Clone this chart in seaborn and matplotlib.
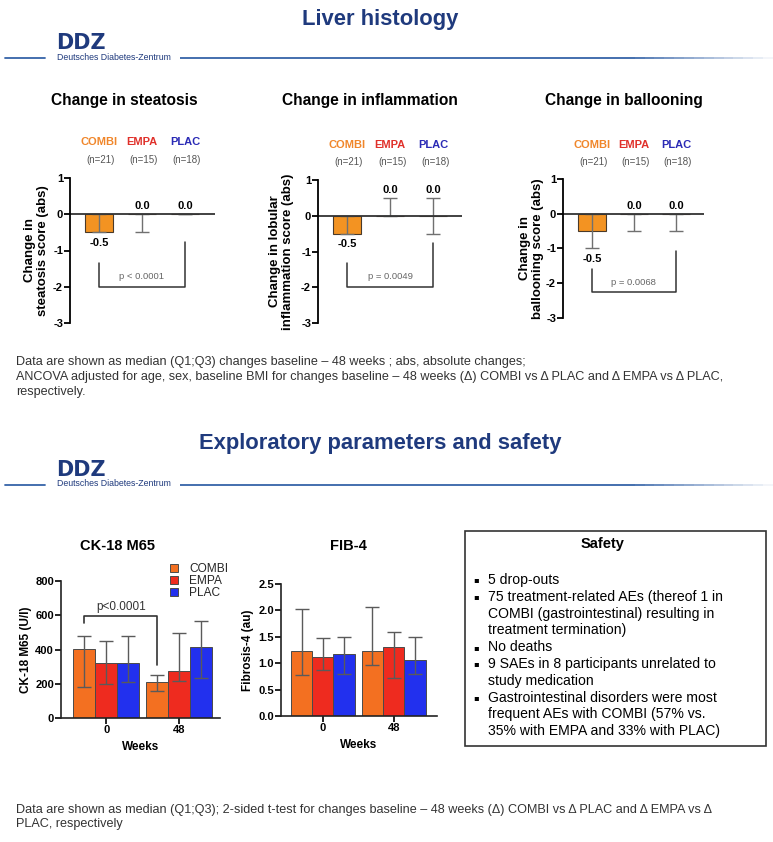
import numpy as np
import pandas as pd
import seaborn as sns
import matplotlib.pyplot as plt
from matplotlib.patches import Rectangle
from matplotlib.lines import Line2D
from matplotlib.collections import LineCollection
from matplotlib.colors import to_rgba

sns.set_theme(style='white')
plt.rcParams['font.family'] = ['Liberation Sans', 'DejaVu Sans']
plt.rcParams['axes.unicode_minus'] = False

W, H = 773, 842
NAVY = '#1f3a7d'
LINE_BLUE = '#3563a8'

# ---- data ----
groups = ['COMBI', 'EMPA', 'PLAC']
group_n = ['(n=21)', '(n=15)', '(n=18)']
header_colors = ['#f0862a', '#e0302a', '#2a2ab5']
bar_colors = ['#f37021', '#ee2b1f', '#2230ee']
top_bar_colors = ['#f39322', '#ee2b1f', '#2230ee']

top_titles = ['Change in steatosis', 'Change in inflammation', 'Change in ballooning']
top_ylabels = ['Change in\nsteatosis score (abs)',
               'Change in lobular\ninflammation score (abs)',
               'Change in\nballooning score (abs)']
top_pvals = ['p < 0.0001', 'p = 0.0049', 'p = 0.0068']

# median, Q1, Q3 of changes baseline - 48 weeks
steatosis_med = [-0.5, 0.0, 0.0]
steatosis_q1 = [-0.5, -0.5, 0.0]
steatosis_q3 = [0.0, 0.0, 0.0]
inflam_med = [-0.5, 0.0, 0.0]
inflam_q1 = [-0.5, 0.0, -0.5]
inflam_q3 = [0.0, 0.5, 0.5]
balloon_med = [-0.5, 0.0, 0.0]
balloon_q1 = [-1.0, -0.5, -0.5]
balloon_q3 = [0.0, 0.0, 0.0]

weeks = ['0', '48']
ck18_combi = [405, 210]
ck18_empa = [322, 274]
ck18_plac = [322, 415]
ck18_combi_q1 = [181, 158]
ck18_empa_q1 = [201, 216]
ck18_plac_q1 = [213, 234]
ck18_combi_q3 = [480, 251]
ck18_empa_q3 = [449, 496]
ck18_plac_q3 = [480, 566]

fib4_combi = [1.23, 1.23]
fib4_empa = [1.12, 1.30]
fib4_plac = [1.17, 1.06]
fib4_combi_q1 = [0.78, 0.97]
fib4_empa_q1 = [0.88, 0.72]
fib4_plac_q1 = [0.80, 0.80]
fib4_combi_q3 = [2.03, 2.07]
fib4_empa_q3 = [1.48, 1.60]
fib4_plac_q3 = [1.49, 1.49]

safety_lines = [
    (True, '5 drop-outs'),
    (True, '75 treatment-related AEs (thereof 1 in'),
    (False, 'COMBI (gastrointestinal) resulting in'),
    (False, 'treatment termination)'),
    (True, 'No deaths'),
    (True, '9 SAEs in 8 participants unrelated to'),
    (False, 'study medication'),
    (True, 'Gastrointestinal disorders were most'),
    (False, 'frequent AEs with COMBI (57% vs.'),
    (False, '35% with EMPA and 33% with PLAC)'),
]

fig = plt.figure(figsize=(W / 100, H / 100), dpi=100)
fig.patch.set_facecolor('white')


def px_axes(x0, y0, x1, y1):
    return fig.add_axes([x0 / W, 1 - y1 / H, (x1 - x0) / W, (y1 - y0) / H])


def ftext(x, y, s, **kw):
    fig.text(x / W, 1 - y / H, s, **kw)


def fline(x0, x1, y, **kw):
    fig.add_artist(Line2D([x0 / W, x1 / W], [1 - y / H, 1 - y / H], transform=fig.transFigure, **kw))


def fade_line(x0, x1, y, color, lw):
    # header rule that fades out towards the right edge
    n = 60
    xs = np.linspace(x0, x1, n + 1) / W
    segs = [[(xs[k], 1 - y / H), (xs[k + 1], 1 - y / H)] for k in range(n)]
    base = to_rgba(color)
    alphas = np.clip((n - np.arange(n)) / (n * 0.25), 0, 1)
    cols = [(base[0], base[1], base[2], a) for a in alphas]
    fig.add_artist(LineCollection(segs, colors=cols, linewidths=lw, transform=fig.transFigure))


def header(title, ty, ly):
    ftext(380, ty, title, ha='center', va='center', fontsize=15.8, fontweight='bold', color=NAVY)
    ftext(56, ly - 15, 'DDZ', ha='left', va='center', fontsize=15, fontweight='heavy',
          color=NAVY, family='DejaVu Sans')
    ftext(57, ly - 1, 'Deutsches Diabetes-Zentrum', ha='left', va='center', fontsize=6.3, color=NAVY)
    fline(5, 45, ly, color=LINE_BLUE, lw=1.3)
    fade_line(180, 773, ly, LINE_BLUE, 1.3)


header('Liver histology', 20, 58)
header('Exploratory parameters and safety', 443, 485)

# ---- liver histology panels ----
top_specs = [
    ((70, 178, 215, 323), (-0.67, 2.7), steatosis_med, steatosis_q1, steatosis_q3,
     (-1.35, -0.77, -2.0, -1.73), 124, -0.145),
    ((318, 180, 462, 323), (-0.67, 2.67), inflam_med, inflam_q1, inflam_q3,
     (-1.32, -0.77, -2.0, -1.71), 370, -0.167),
    ((563, 179, 704, 318), (-0.69, 2.67), balloon_med, balloon_q1, balloon_q3,
     (-1.59, -1.07, -2.25, -1.99), 624, -0.135),
]

for i, (box, xlim, med, q1, q3, br, tx, lx) in enumerate(top_specs):
    ax = px_axes(*box)
    df = pd.DataFrame({'group': groups, 'value': med})
    sns.barplot(data=df, x='group', y='value', hue='group', palette=top_bar_colors,
                width=0.65, edgecolor='#4a3a2a', linewidth=0.8, errorbar=None,
                saturation=1, legend=False, ax=ax)
    med_a, q1_a, q3_a = np.array(med), np.array(q1), np.array(q3)
    xs = np.arange(len(groups))
    ax.errorbar(xs, med_a, yerr=[med_a - q1_a, q3_a - med_a], fmt='none',
                ecolor='#707070', elinewidth=1, capsize=5, capthick=1)
    ax.axhline(0, color='#333333', lw=1.3)
    ax.set_xlim(xlim)
    ax.set_ylim(-3, 1)
    ax.set_yticks([1, 0, -1, -2, -3])
    ax.set_xticks([])
    ax.set_xlabel('')
    for s in ['top', 'right', 'bottom']:
        ax.spines[s].set_visible(False)
    ax.spines['left'].set_color('black')
    ax.spines['left'].set_linewidth(1.3)
    ax.tick_params(axis='y', direction='out', length=4, width=1.3, labelsize=8, pad=1,
                   left=True, colors='black')
    for t in ax.get_yticklabels():
        t.set_fontweight('bold')
    ax.set_ylabel(top_ylabels[i], fontsize=9.5, fontweight='bold', color='black', linespacing=1.1)
    ax.yaxis.set_label_coords(lx, 0.5)
    ftext(tx, 100, top_titles[i], ha='center', va='center', fontsize=11.2, fontweight='bold', color='black')

    for j, g in enumerate(groups):
        ax.text(j, 1.98, g, ha='center', va='center', fontsize=8, fontweight='bold',
                color=header_colors[j], clip_on=False)
        ax.text(j + 0.05, 1.5, group_n[j], ha='center', va='center', fontsize=7,
                color='#555555', clip_on=False)
        if med[j] < 0:
            ax.text(j, min(med[j], q1[j]) - 0.3, f'{med[j]:.1f}', ha='center', va='center',
                    fontsize=8, fontweight='bold', color='black')
        else:
            ax.text(j, max(med[j], q3[j]) + 0.23, f'{med[j]:.1f}', ha='center', va='center',
                    fontsize=8, fontweight='bold', color='black')

    yl, yr, yb, yt = br
    ax.plot([0, 0, 2, 2], [yl, yb, yb, yr], color='#333333', lw=1.1)
    ax.text(1, yt, top_pvals[i], ha='center', va='center', fontsize=6.8, color='#666666')

# footnote for histology
foot1 = ['Data are shown as median (Q1;Q3) changes baseline \u2013 48 weeks ; abs, absolute changes;',
         'ANCOVA adjusted for age, sex, baseline BMI for changes baseline \u2013 48 weeks (\u0394) COMBI vs \u0394 PLAC and \u0394 EMPA vs \u0394 PLAC,',
         'respectively.']
for k, line in enumerate(foot1):
    ftext(16, 362 + 15 * k, line, ha='left', va='center', fontsize=9.1, color='#333333')


# ---- exploratory panels ----
def grouped_panel(box, xlim, ylim, yticks, meds, q1s, q3s, ylabel, title, tx, lx, fmt):
    ax = px_axes(*box)
    df = pd.DataFrame({'week': weeks * len(groups),
                       'group': np.repeat(groups, len(weeks)),
                       'value': np.concatenate(meds)})
    sns.barplot(data=df, x='week', y='value', hue='group', hue_order=groups,
                palette=bar_colors, width=0.9, edgecolor='#4a4a4a', linewidth=0.7,
                errorbar=None, saturation=1, ax=ax)
    centers = []
    for cont, m, lo, hi in zip(ax.containers, meds, q1s, q3s):
        cx = [b.get_x() + b.get_width() / 2 for b in cont]
        centers.append(cx)
        m, lo, hi = np.array(m), np.array(lo), np.array(hi)
        ax.errorbar(cx, m, yerr=[m - lo, hi - m], fmt='none', ecolor='#5a5a5a',
                    elinewidth=1, capsize=5, capthick=1)
    ax.set_xlim(xlim)
    ax.set_ylim(ylim)
    ax.set_yticks(yticks)
    ax.set_yticklabels([fmt.format(v) for v in yticks])
    for s in ['top', 'right']:
        ax.spines[s].set_visible(False)
    for s in ['left', 'bottom']:
        ax.spines[s].set_color('#222222')
        ax.spines[s].set_linewidth(1.2)
    ax.tick_params(axis='both', direction='out', length=4, width=1.2, labelsize=8, pad=1,
                   left=True, bottom=True, colors='black')
    for t in ax.get_yticklabels() + ax.get_xticklabels():
        t.set_fontweight('bold')
    ax.set_xlabel('Weeks', fontsize=8.5, fontweight='bold', color='black', labelpad=4)
    ax.set_ylabel(ylabel, fontsize=8.5, fontweight='bold', color='black')
    ax.yaxis.set_label_coords(lx, 0.5)
    ftext(tx, 546, title, ha='center', va='center', fontsize=10.5, fontweight='bold', color='black')
    return ax, centers


ax_ck, ck_centers = grouped_panel(
    (61, 581, 220, 718), (-0.62, 1.56), (0, 800), [0, 200, 400, 600, 800],
    [ck18_combi, ck18_empa, ck18_plac], [ck18_combi_q1, ck18_empa_q1, ck18_plac_q1],
    [ck18_combi_q3, ck18_empa_q3, ck18_plac_q3], 'CK-18 M65 (U/l)', 'CK-18 M65', 118, -0.18, '{:.0f}')
handles, labels = ax_ck.get_legend_handles_labels()
ax_ck.legend(handles, labels, loc='upper left', bbox_to_anchor=(164 / W, 1 - 557 / H),
             bbox_transform=fig.transFigure, frameon=False, fontsize=8.6,
             handlelength=0.7, handleheight=0.7, handletextpad=0.9, labelspacing=0.0,
             borderpad=0)
x_left, x_right = ck_centers[0][0], ck_centers[0][1]
ax_ck.plot([x_left, x_left, x_right, x_right], [552, 593, 593, 310], color='#333333', lw=1.2)
ax_ck.text((x_left + x_right) / 2, 646, 'p<0.0001', ha='center', va='center', fontsize=8.5, color='#333333')

ax_fib, _ = grouped_panel(
    (281, 584, 437, 716), (-0.59, 1.61), (0, 2.5), [0, 0.5, 1.0, 1.5, 2.0, 2.5],
    [fib4_combi, fib4_empa, fib4_plac], [fib4_combi_q1, fib4_empa_q1, fib4_plac_q1],
    [fib4_combi_q3, fib4_empa_q3, fib4_plac_q3], 'Fibrosis-4 (au)', 'FIB-4', 348, -0.17, '{:.1f}')
if ax_fib.legend_ is not None:
    ax_fib.legend_.remove()

# ---- safety box ----
fig.add_artist(Rectangle((465 / W, 1 - 746 / H), (766 - 465) / W, (746 - 531) / H,
                         transform=fig.transFigure, fill=False, edgecolor='#333333', lw=1.2))
ftext(603, 544, 'Safety', ha='center', va='center', fontsize=10.5, fontweight='bold', color='black')
for k, (bullet, line) in enumerate(safety_lines):
    y = 580 + 16.8 * k
    if bullet:
        ftext(473, y, '\u25aa', ha='left', va='center', fontsize=6, color='black', family='DejaVu Sans')
    ftext(488, y, line, ha='left', va='center', fontsize=10.1, color='black')

foot2 = ['Data are shown as median (Q1;Q3); 2-sided t-test for changes baseline \u2013 48 weeks (\u0394) COMBI vs \u0394 PLAC and \u0394 EMPA vs \u0394',
         'PLAC, respectively']
for k, line in enumerate(foot2):
    ftext(16, 810 + 13.5 * k, line, ha='left', va='center', fontsize=9.1, color='#333333')

fig.savefig('out.png', dpi=100, facecolor='white')
